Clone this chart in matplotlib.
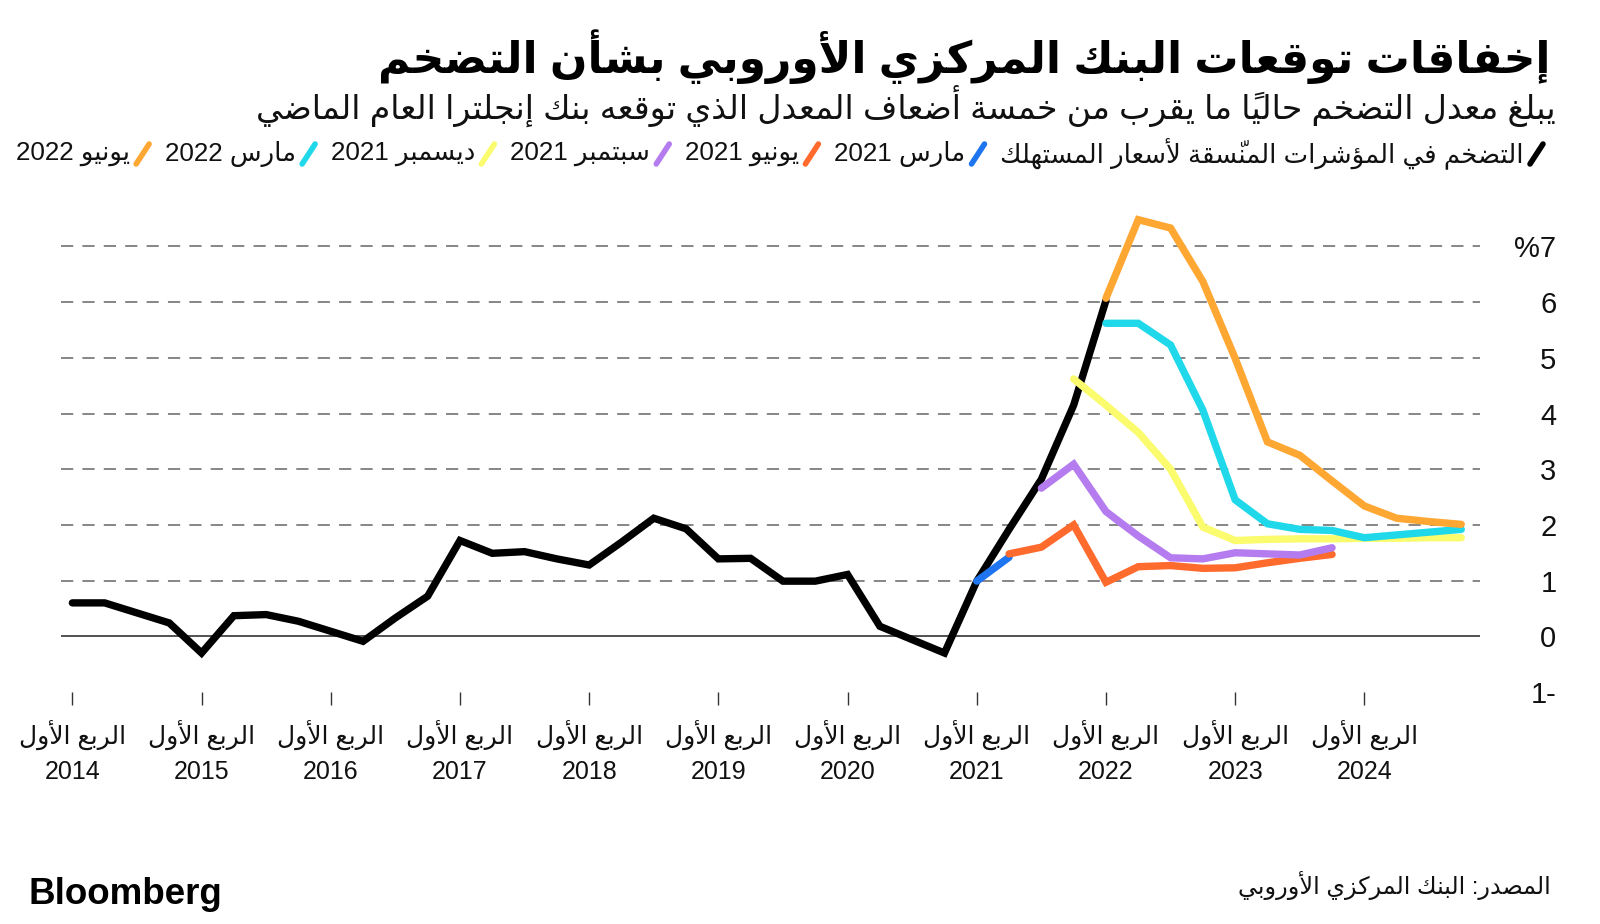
import matplotlib
matplotlib.use('Agg')
import matplotlib.pyplot as plt
from matplotlib.lines import Line2D
import numpy as np

plt.rcParams['font.family'] = ['Liberation Sans', 'DejaVu Sans']

# HICP quarterly inflation, % (2014 Q1 .. 2022 Q1)
hicp_start = 2014.0
hicp = [0.60, 0.60, 0.42, 0.24,
        -0.30, 0.37, 0.39, 0.27,
        0.09, -0.09, 0.33, 0.72,
        1.72, 1.49, 1.52, 1.39,
        1.28, 1.69, 2.12, 1.93,
        1.39, 1.40, 0.99, 0.99,
        1.11, 0.18, -0.06, -0.30,
        0.99, 1.92, 2.82, 4.15,
        6.03]

# ECB staff projections by vintage
mar21_start = 2021.0
mar21 = [0.99, 1.42]
jun21_start = 2021.25
jun21 = [1.48, 1.60, 2.00, 0.97, 1.25, 1.27, 1.22, 1.23, 1.32, 1.40, 1.47]
sep21_start = 2021.5
sep21 = [2.66, 3.09, 2.24, 1.80, 1.41, 1.39, 1.50, 1.48, 1.46, 1.59]
dec21_start = 2021.75
dec21 = [4.62, 4.15, 3.66, 3.00, 1.96, 1.72, 1.74, 1.75, 1.75, 1.76, 1.76, 1.77, 1.77]
mar22_start = 2022.0
mar22 = [5.62, 5.62, 5.23, 4.06, 2.45, 2.02, 1.92, 1.90, 1.77, 1.82, 1.87, 1.92]
jun22_start = 2022.0
jun22 = [6.07, 7.48, 7.33, 6.37, 4.99, 3.49, 3.25, 2.79, 2.34, 2.12, 2.06, 2.01]

series_names = ['التضخم في المؤشرات المنسّقة لأسعار المستهلك',
                'مارس 2021', 'يونيو 2021', 'سبتمبر 2021',
                'ديسمبر 2021', 'مارس 2022', 'يونيو 2022']
colors = ['#000000', '#1f75f0', '#ff6a2d', '#b57cf0',
          '#fbfb6e', '#1fd8ea', '#ffa733']

years = list(range(2014, 2025))
quarter_label = 'الربع الأول'
ytick_vals = [-1, 0, 1, 2, 3, 4, 5, 6, 7]
ytick_text = ['1-', '0', '1', '2', '3', '4', '5', '6', '%7']

title = 'إخفاقات توقعات البنك المركزي الأوروبي بشأن التضخم'
subtitle = 'يبلغ معدل التضخم حالياً ما يقرب من خمسة أضعاف المعدل الذي توقعه بنك إنجلترا العام الماضي'
source = 'المصدر: البنك المركزي الأوروبي'


# --- tiny arabic shaper: matplotlib does no shaping / bidi by itself ---
_seq = [('ء', 1), ('آ', 2), ('أ', 2), ('ؤ', 2), ('إ', 2), ('ئ', 4), ('ا', 2),
        ('ب', 4), ('ة', 2), ('ت', 4), ('ث', 4), ('ج', 4), ('ح', 4), ('خ', 4),
        ('د', 2), ('ذ', 2), ('ر', 2), ('ز', 2), ('س', 4), ('ش', 4), ('ص', 4),
        ('ض', 4), ('ط', 4), ('ظ', 4), ('ع', 4), ('غ', 4), ('ف', 4), ('ق', 4),
        ('ك', 4), ('ل', 4), ('م', 4), ('ن', 4), ('ه', 4), ('و', 2), ('ى', 2),
        ('ي', 4)]
FORMS = {}
_c = 0xFE80
for ch, n in _seq:
    FORMS[ch] = [chr(_c + k) for k in range(n)]
    _c += n
LAM_ALEF = {'آ': 0xFEF5, 'أ': 0xFEF7, 'إ': 0xFEF9, 'ا': 0xFEFB}
MARKS = set(chr(c) for c in range(0x064B, 0x0660)) | {'\u0670'}


def _kind(ch):
    if ch.startswith('LA'):
        return 'R'
    if ch in FORMS:
        return {4: 'D', 2: 'R', 1: 'U'}[len(FORMS[ch])]
    return 'U'


def ar(text):
    toks = []
    for ch in text:
        if ch in MARKS and toks:
            toks[-1][1] += ch
        else:
            toks.append([ch, ''])
    merged = []
    i = 0
    while i < len(toks):
        ch, mk = toks[i]
        if ch == 'ل' and i + 1 < len(toks) and toks[i + 1][0] in LAM_ALEF:
            merged.append(['LA' + toks[i + 1][0], mk + toks[i + 1][1]])
            i += 2
        else:
            merged.append([ch, mk])
            i += 1
    out = []
    for i, (ch, mk) in enumerate(merged):
        k = _kind(ch)
        pj = i > 0 and _kind(merged[i - 1][0]) == 'D'
        nj = i + 1 < len(merged) and _kind(merged[i + 1][0]) in ('D', 'R')
        if ch.startswith('LA'):
            g = chr(LAM_ALEF[ch[2]] + (1 if pj else 0))
        elif k == 'D':
            f = FORMS[ch]
            g = f[3] if (pj and nj) else f[1] if pj else f[2] if nj else f[0]
        elif k == 'R':
            g = FORMS[ch][1] if pj else FORMS[ch][0]
        elif ch in FORMS:
            g = FORMS[ch][0]
        else:
            g = ch
        out.append((g, mk))
    # simple bidi: rtl paragraph, ascii alnum runs stay ltr
    runs = []
    for g, mk in out:
        l = g.isascii() and g.isalnum()
        if runs and runs[-1][0] == l:
            runs[-1][1].append((g, mk))
        else:
            runs.append([l, [(g, mk)]])
    vis = ''
    for l, items in reversed(runs):
        if not l:
            items = items[::-1]
        vis += ''.join(g + mk for g, mk in items)
    return vis


W, H = 1600, 924
fig = plt.figure(figsize=(16, 9.24), dpi=100)
fig.patch.set_facecolor('white')

ax = fig.add_axes([61 / W, 1 - 692 / H, (1480 - 61) / W, (692 - 213) / H])
ax.set_xlim(2013.912, 2024.895)
ax.set_ylim(-1, 7.6)

for v in ytick_vals:
    if v == 0:
        ax.axhline(v, color='#333333', lw=1.2, zorder=1)
    elif v > 0:
        ax.axhline(v, color='#666666', lw=1.1, ls=(0, (8, 6)), zorder=1)

all_series = [(hicp_start, hicp), (mar21_start, mar21), (jun21_start, jun21),
              (sep21_start, sep21), (dec21_start, dec21),
              (mar22_start, mar22), (jun22_start, jun22)]
for (start, vals), col in zip(all_series, colors):
    xs = start + 0.25 * np.arange(len(vals))
    ax.plot(xs, vals, color=col, lw=5.3, solid_capstyle='round',
            solid_joinstyle='miter', zorder=3)

for s in ax.spines.values():
    s.set_visible(False)

ax.set_xticks(years)
ax.set_xticklabels([ar(quarter_label) + '\n' + str(y) for y in years],
                   fontsize=18, linespacing=1.55, multialignment='center')
ax.tick_params(axis='x', length=9, width=1, color='#333333', pad=11,
               labelcolor='#111111')

ax.yaxis.tick_right()
ax.set_yticks(ytick_vals)
ax.set_yticklabels(ytick_text, fontsize=21, color='#111111')
ax.tick_params(axis='y', length=0, pad=55)
for lab in ax.get_yticklabels():
    lab.set_horizontalalignment('right')

renderer = fig.canvas.get_renderer()


def fit(t, width_px):
    w = t.get_window_extent(renderer).width
    t.set_fontsize(t.get_fontsize() * width_px / w)


t = fig.text(1551 / W, 1 - 57 / H, ar(title), ha='right', va='center',
             fontsize=30, fontweight='bold', color='black')
fit(t, 1171)
t = fig.text(1556 / W, 1 - 106 / H, ar(subtitle), ha='right', va='center',
             fontsize=22, color='#111111')
fit(t, 1295)

# legend row, laid out right to left
leg_y = 154
leg_texts = [fig.text(0, 1 - leg_y / H, ar(n), ha='right', va='center',
                      fontsize=16, color='#111111') for n in series_names]
mark_w, mark_gap, item_gap = 13, 6, 16
fixed = len(leg_texts) * (mark_w + mark_gap) + (len(leg_texts) - 1) * item_gap
tot = sum(t.get_window_extent(renderer).width for t in leg_texts)
fs = 16 * (1528 - fixed) / tot
x = 1543
for t, col in zip(leg_texts, colors):
    fig.add_artist(Line2D([(x - mark_w) / W, x / W],
                          [1 - (leg_y + 10) / H, 1 - (leg_y - 10) / H],
                          color=col, lw=4, solid_capstyle='round'))
    x -= mark_w + mark_gap
    t.set_fontsize(fs)
    t.set_x(x / W)
    x -= t.get_window_extent(renderer).width + item_gap

t = fig.text(1551 / W, 1 - 886 / H, ar(source), ha='right', va='center',
             fontsize=16, color='#111111')
fit(t, 314)

fig.text(28 / W, 1 - 894 / H, 'Bloomberg', ha='left', va='center',
         fontsize=26.5, fontweight='bold', color='black')

fig.savefig('out.png', dpi=100, facecolor='white')
